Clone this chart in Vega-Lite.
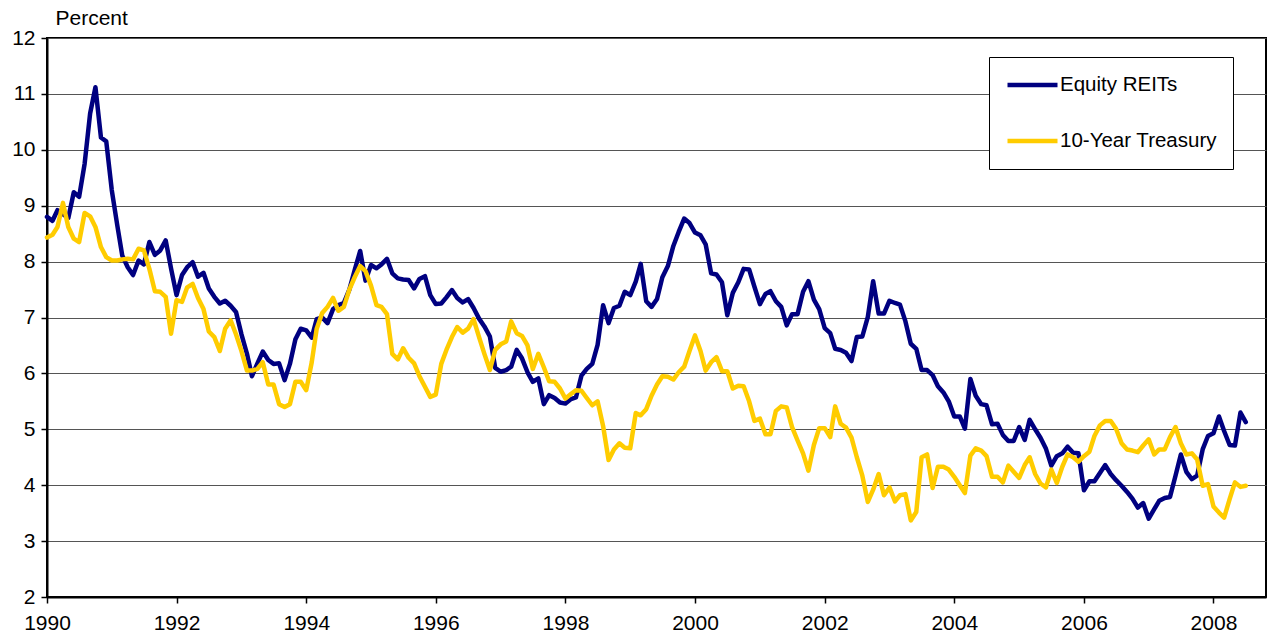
{
  "$schema": "https://vega.github.io/schema/vega-lite/v6.json",
  "width": 1219,
  "height": 559,
  "autosize": "none",
  "padding": {"left": 47, "top": 38, "right": 1, "bottom": 40},
  "background": "white",
  "config": {
    "font": "Liberation Sans",
    "view": {"stroke": "black", "strokeWidth": 2}
  },
  "data": {
    "format": {"parse": {"d": "date:'%Y-%m'"}},
    "values": [
      {"d":"1990-01","r":8.80,"t":8.43},{"d":"1990-02","r":8.73,"t":8.48},{"d":"1990-03","r":8.92,"t":8.62},{"d":"1990-04","r":8.85,"t":9.05},{"d":"1990-05","r":8.78,"t":8.62},{"d":"1990-06","r":9.24,"t":8.41},{"d":"1990-07","r":9.16,"t":8.35},{"d":"1990-08","r":9.75,"t":8.87},{"d":"1990-09","r":10.65,"t":8.81},{"d":"1990-10","r":11.12,"t":8.62},{"d":"1990-11","r":10.22,"t":8.26},{"d":"1990-12","r":10.15,"t":8.08},
      {"d":"1991-01","r":9.28,"t":8.02},{"d":"1991-02","r":8.65,"t":8.02},{"d":"1991-03","r":8.11,"t":8.04},{"d":"1991-04","r":7.90,"t":8.05},{"d":"1991-05","r":7.76,"t":8.04},{"d":"1991-06","r":8.02,"t":8.23},{"d":"1991-07","r":7.95,"t":8.20},{"d":"1991-08","r":8.35,"t":7.87},{"d":"1991-09","r":8.12,"t":7.47},{"d":"1991-10","r":8.20,"t":7.46},{"d":"1991-11","r":8.38,"t":7.37},{"d":"1991-12","r":7.88,"t":6.71},
      {"d":"1992-01","r":7.40,"t":7.31},{"d":"1992-02","r":7.76,"t":7.28},{"d":"1992-03","r":7.90,"t":7.54},{"d":"1992-04","r":7.99,"t":7.60},{"d":"1992-05","r":7.73,"t":7.35},{"d":"1992-06","r":7.80,"t":7.15},{"d":"1992-07","r":7.52,"t":6.75},{"d":"1992-08","r":7.37,"t":6.65},{"d":"1992-09","r":7.25,"t":6.40},{"d":"1992-10","r":7.30,"t":6.80},{"d":"1992-11","r":7.21,"t":6.95},{"d":"1992-12","r":7.10,"t":6.70},
      {"d":"1993-01","r":6.70,"t":6.40},{"d":"1993-02","r":6.35,"t":6.05},{"d":"1993-03","r":5.95,"t":6.05},{"d":"1993-04","r":6.18,"t":6.08},{"d":"1993-05","r":6.39,"t":6.20},{"d":"1993-06","r":6.24,"t":5.80},{"d":"1993-07","r":6.17,"t":5.80},{"d":"1993-08","r":6.18,"t":5.45},{"d":"1993-09","r":5.88,"t":5.40},{"d":"1993-10","r":6.17,"t":5.45},{"d":"1993-11","r":6.61,"t":5.85},{"d":"1993-12","r":6.80,"t":5.85},
      {"d":"1994-01","r":6.77,"t":5.70},{"d":"1994-02","r":6.64,"t":6.20},{"d":"1994-03","r":6.97,"t":6.80},{"d":"1994-04","r":7.00,"t":7.08},{"d":"1994-05","r":6.90,"t":7.19},{"d":"1994-06","r":7.15,"t":7.35},{"d":"1994-07","r":7.22,"t":7.12},{"d":"1994-08","r":7.26,"t":7.19},{"d":"1994-09","r":7.50,"t":7.50},{"d":"1994-10","r":7.85,"t":7.72},{"d":"1994-11","r":8.19,"t":7.92},{"d":"1994-12","r":7.66,"t":7.83},
      {"d":"1995-01","r":7.94,"t":7.57},{"d":"1995-02","r":7.88,"t":7.22},{"d":"1995-03","r":7.95,"t":7.19},{"d":"1995-04","r":8.05,"t":7.06},{"d":"1995-05","r":7.79,"t":6.35},{"d":"1995-06","r":7.70,"t":6.25},{"d":"1995-07","r":7.68,"t":6.45},{"d":"1995-08","r":7.67,"t":6.28},{"d":"1995-09","r":7.52,"t":6.18},{"d":"1995-10","r":7.69,"t":5.95},{"d":"1995-11","r":7.74,"t":5.76},{"d":"1995-12","r":7.40,"t":5.58},
      {"d":"1996-01","r":7.24,"t":5.62},{"d":"1996-02","r":7.25,"t":6.17},{"d":"1996-03","r":7.36,"t":6.42},{"d":"1996-04","r":7.49,"t":6.65},{"d":"1996-05","r":7.35,"t":6.83},{"d":"1996-06","r":7.27,"t":6.73},{"d":"1996-07","r":7.33,"t":6.80},{"d":"1996-08","r":7.17,"t":6.97},{"d":"1996-09","r":6.98,"t":6.65},{"d":"1996-10","r":6.84,"t":6.35},{"d":"1996-11","r":6.66,"t":6.06},{"d":"1996-12","r":6.10,"t":6.42},
      {"d":"1997-01","r":6.03,"t":6.52},{"d":"1997-02","r":6.06,"t":6.57},{"d":"1997-03","r":6.12,"t":6.93},{"d":"1997-04","r":6.42,"t":6.72},{"d":"1997-05","r":6.27,"t":6.67},{"d":"1997-06","r":6.02,"t":6.50},{"d":"1997-07","r":5.85,"t":6.08},{"d":"1997-08","r":5.91,"t":6.35},{"d":"1997-09","r":5.45,"t":6.11},{"d":"1997-10","r":5.61,"t":5.86},{"d":"1997-11","r":5.56,"t":5.85},{"d":"1997-12","r":5.48,"t":5.73},
      {"d":"1998-01","r":5.46,"t":5.55},{"d":"1998-02","r":5.54,"t":5.63},{"d":"1998-03","r":5.57,"t":5.70},{"d":"1998-04","r":5.96,"t":5.69},{"d":"1998-05","r":6.08,"t":5.56},{"d":"1998-06","r":6.17,"t":5.43},{"d":"1998-07","r":6.51,"t":5.50},{"d":"1998-08","r":7.22,"t":5.06},{"d":"1998-09","r":6.90,"t":4.45},{"d":"1998-10","r":7.17,"t":4.64},{"d":"1998-11","r":7.21,"t":4.75},{"d":"1998-12","r":7.46,"t":4.67},
      {"d":"1999-01","r":7.40,"t":4.66},{"d":"1999-02","r":7.64,"t":5.29},{"d":"1999-03","r":7.96,"t":5.25},{"d":"1999-04","r":7.29,"t":5.36},{"d":"1999-05","r":7.19,"t":5.60},{"d":"1999-06","r":7.33,"t":5.80},{"d":"1999-07","r":7.72,"t":5.95},{"d":"1999-08","r":7.92,"t":5.94},{"d":"1999-09","r":8.28,"t":5.89},{"d":"1999-10","r":8.53,"t":6.02},{"d":"1999-11","r":8.77,"t":6.12},{"d":"1999-12","r":8.69,"t":6.40},
      {"d":"2000-01","r":8.52,"t":6.68},{"d":"2000-02","r":8.47,"t":6.40},{"d":"2000-03","r":8.31,"t":6.05},{"d":"2000-04","r":7.79,"t":6.20},{"d":"2000-05","r":7.77,"t":6.29},{"d":"2000-06","r":7.63,"t":6.04},{"d":"2000-07","r":7.04,"t":6.04},{"d":"2000-08","r":7.44,"t":5.73},{"d":"2000-09","r":7.63,"t":5.78},{"d":"2000-10","r":7.87,"t":5.77},{"d":"2000-11","r":7.86,"t":5.50},{"d":"2000-12","r":7.55,"t":5.15},
      {"d":"2001-01","r":7.24,"t":5.19},{"d":"2001-02","r":7.42,"t":4.91},{"d":"2001-03","r":7.47,"t":4.91},{"d":"2001-04","r":7.29,"t":5.33},{"d":"2001-05","r":7.19,"t":5.41},{"d":"2001-06","r":6.86,"t":5.39},{"d":"2001-07","r":7.06,"t":5.04},{"d":"2001-08","r":7.06,"t":4.80},{"d":"2001-09","r":7.46,"t":4.57},{"d":"2001-10","r":7.65,"t":4.26},{"d":"2001-11","r":7.32,"t":4.72},{"d":"2001-12","r":7.15,"t":5.02},
      {"d":"2002-01","r":6.81,"t":5.02},{"d":"2002-02","r":6.72,"t":4.86},{"d":"2002-03","r":6.44,"t":5.41},{"d":"2002-04","r":6.42,"t":5.10},{"d":"2002-05","r":6.37,"t":5.03},{"d":"2002-06","r":6.22,"t":4.85},{"d":"2002-07","r":6.65,"t":4.50},{"d":"2002-08","r":6.66,"t":4.17},{"d":"2002-09","r":7.01,"t":3.70},{"d":"2002-10","r":7.65,"t":3.92},{"d":"2002-11","r":7.07,"t":4.20},{"d":"2002-12","r":7.07,"t":3.82},
      {"d":"2003-01","r":7.30,"t":3.96},{"d":"2003-02","r":7.26,"t":3.71},{"d":"2003-03","r":7.23,"t":3.82},{"d":"2003-04","r":6.93,"t":3.84},{"d":"2003-05","r":6.53,"t":3.37},{"d":"2003-06","r":6.44,"t":3.52},{"d":"2003-07","r":6.06,"t":4.50},{"d":"2003-08","r":6.06,"t":4.55},{"d":"2003-09","r":5.97,"t":3.95},{"d":"2003-10","r":5.77,"t":4.33},{"d":"2003-11","r":5.66,"t":4.33},{"d":"2003-12","r":5.50,"t":4.28},
      {"d":"2004-01","r":5.23,"t":4.15},{"d":"2004-02","r":5.23,"t":4.00},{"d":"2004-03","r":5.01,"t":3.86},{"d":"2004-04","r":5.90,"t":4.53},{"d":"2004-05","r":5.60,"t":4.66},{"d":"2004-06","r":5.45,"t":4.62},{"d":"2004-07","r":5.43,"t":4.52},{"d":"2004-08","r":5.09,"t":4.15},{"d":"2004-09","r":5.10,"t":4.15},{"d":"2004-10","r":4.90,"t":4.05},{"d":"2004-11","r":4.79,"t":4.35},{"d":"2004-12","r":4.79,"t":4.24},
      {"d":"2005-01","r":5.04,"t":4.13},{"d":"2005-02","r":4.81,"t":4.36},{"d":"2005-03","r":5.17,"t":4.50},{"d":"2005-04","r":5.00,"t":4.20},{"d":"2005-05","r":4.85,"t":4.03},{"d":"2005-06","r":4.65,"t":3.96},{"d":"2005-07","r":4.35,"t":4.28},{"d":"2005-08","r":4.52,"t":4.04},{"d":"2005-09","r":4.57,"t":4.33},{"d":"2005-10","r":4.69,"t":4.55},{"d":"2005-11","r":4.58,"t":4.50},{"d":"2005-12","r":4.57,"t":4.42},
      {"d":"2006-01","r":3.91,"t":4.52},{"d":"2006-02","r":4.07,"t":4.60},{"d":"2006-03","r":4.07,"t":4.88},{"d":"2006-04","r":4.22,"t":5.07},{"d":"2006-05","r":4.36,"t":5.15},{"d":"2006-06","r":4.20,"t":5.15},{"d":"2006-07","r":4.09,"t":5.01},{"d":"2006-08","r":3.99,"t":4.75},{"d":"2006-09","r":3.88,"t":4.64},{"d":"2006-10","r":3.76,"t":4.62},{"d":"2006-11","r":3.60,"t":4.59},{"d":"2006-12","r":3.68,"t":4.71},
      {"d":"2007-01","r":3.40,"t":4.82},{"d":"2007-02","r":3.57,"t":4.55},{"d":"2007-03","r":3.72,"t":4.64},{"d":"2007-04","r":3.77,"t":4.64},{"d":"2007-05","r":3.79,"t":4.86},{"d":"2007-06","r":4.17,"t":5.04},{"d":"2007-07","r":4.55,"t":4.75},{"d":"2007-08","r":4.24,"t":4.55},{"d":"2007-09","r":4.11,"t":4.57},{"d":"2007-10","r":4.17,"t":4.46},{"d":"2007-11","r":4.64,"t":3.99},{"d":"2007-12","r":4.88,"t":4.02},
      {"d":"2008-01","r":4.93,"t":3.62},{"d":"2008-02","r":5.23,"t":3.51},{"d":"2008-03","r":4.97,"t":3.42},{"d":"2008-04","r":4.72,"t":3.75},{"d":"2008-05","r":4.71,"t":4.05},{"d":"2008-06","r":5.30,"t":3.97},{"d":"2008-07","r":5.13,"t":3.99}
    ]
  },
  "transform": [{"fold": ["r", "t"], "as": ["series", "value"]}],
  "mark": {"type": "line", "strokeWidth": 4.5, "strokeJoin": "round", "strokeCap": "round"},
  "encoding": {
    "x": {
      "field": "d",
      "type": "temporal",
      "scale": {"domain": [{"year": 1990, "month": 1, "date": 1}, {"year": 2008, "month": 10, "date": 23}]},
      "axis": {
        "title": null,
        "values": [{"year": 1990}, {"year": 1992}, {"year": 1994}, {"year": 1996}, {"year": 1998}, {"year": 2000}, {"year": 2002}, {"year": 2004}, {"year": 2006}, {"year": 2008}],
        "format": "%Y",
        "labelFontSize": 21,
        "labelColor": "black",
        "labelFlush": false,
        "labelOverlap": false,
        "labelPadding": 9,
        "tickColor": "black",
        "tickSize": 6,
        "tickWidth": 1.5,
        "domainColor": "black",
        "domainWidth": 2,
        "grid": false
      }
    },
    "y": {
      "field": "value",
      "type": "quantitative",
      "scale": {"domain": [2, 12], "nice": false, "zero": false},
      "axis": {
        "title": "Percent",
        "titleAngle": 0,
        "titleX": 8,
        "titleY": -20,
        "titleAlign": "left",
        "titleBaseline": "middle",
        "titleFontWeight": "normal",
        "titleFontSize": 21,
        "titleColor": "black",
        "values": [2, 3, 4, 5, 6, 7, 8, 9, 10, 11, 12],
        "labelFontSize": 21,
        "labelColor": "black",
        "labelPadding": 6,
        "tickColor": "black",
        "tickSize": 6,
        "tickWidth": 1.5,
        "domainColor": "black",
        "domainWidth": 2,
        "grid": true,
        "gridColor": "#555555",
        "gridWidth": 1
      }
    },
    "color": {
      "field": "series",
      "type": "nominal",
      "scale": {"domain": ["r", "t"], "range": ["#000080", "#FFCC00"]},
      "legend": {
        "title": null,
        "orient": "none",
        "legendX": 942,
        "legendY": 19,
        "strokeColor": "black",
        "fillColor": "white",
        "padding": 16,
        "symbolType": "stroke",
        "symbolSize": 2500,
        "symbolStrokeWidth": 4.5,
        "clipHeight": 24,
        "labelFontSize": 20.5,
        "labelColor": "black",
        "labelOffset": 0,
        "labelLimit": 400,
        "rowPadding": 32,
        "labelExpr": "datum.value == 'r' ? 'Equity REITs' : '10-Year Treasury'"
      }
    }
  }
}
